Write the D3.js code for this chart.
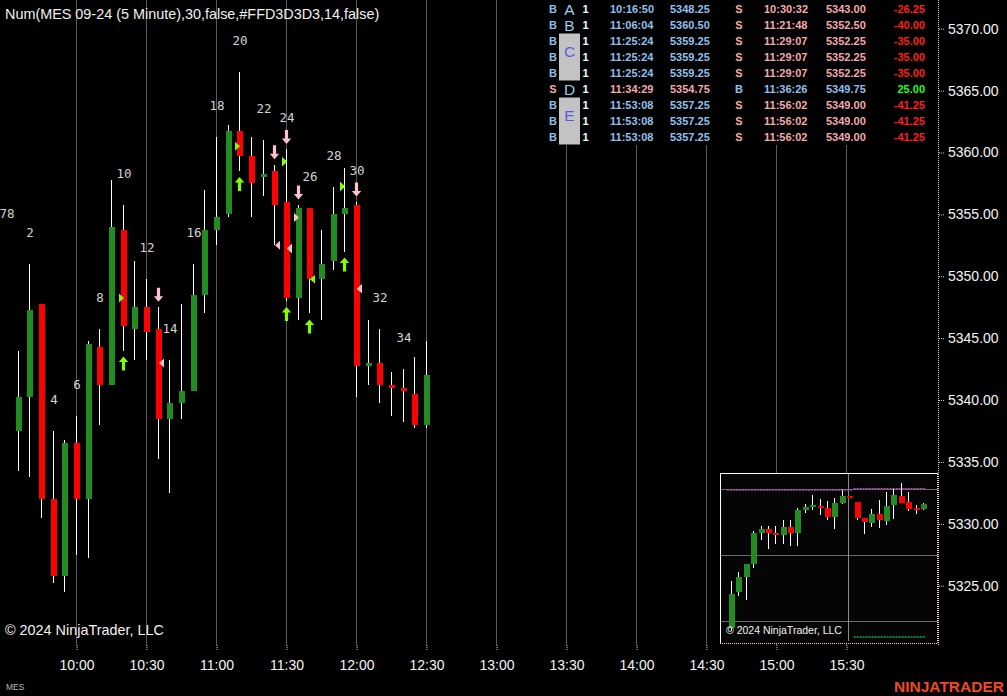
<!DOCTYPE html>
<html>
<head>
<meta charset="utf-8">
<script src="https://cdn.jsdelivr.net/npm/d3@7/dist/d3.min.js"></script>
<style>
  html, body { margin:0; padding:0; background:#000; overflow:hidden; }
  svg { display:block; }
</style>
</head>
<body>
<svg id="chart" width="1007" height="696"></svg>
<script>
// ================= DATA =================
const chartTitle = "Num(MES 09-24 (5 Minute),30,false,#FFD3D3D3,14,false)";
const copyright = "\u00A9 2024 NinjaTrader, LLC";

// 5-minute bars (bar number, close time, OHLC)
const barNumbers = [1,2,3,4,5,6,7,8,9,10,11,12,13,14,15,16,17,18,19,20,21,22,23,24,25,26,27,28,29,30,31,32,33,34,35,36];
const barTimes = ["9:35","9:40","9:45","9:50","9:55","10:00","10:05","10:10","10:15","10:20","10:25","10:30",
  "10:35","10:40","10:45","10:50","10:55","11:00","11:05","11:10","11:15","11:20","11:25","11:30",
  "11:35","11:40","11:45","11:50","11:55","12:00","12:05","12:10","12:15","12:20","12:25","12:30"];
const barOpen  = [5337.5,5340.25,5347.75,5332,5325.75,5336.5,5332,5344.25,5341.25,5353.75,5345.75,5347.5,
  5345.75,5338.5,5339.75,5340.75,5348.5,5353.75,5355,5361.75,5359.75,5358,5358.5,5356,
  5348.25,5355.5,5349.75,5351.25,5355,5355.75,5342.75,5343,5341.25,5341,5340.5,5338];
const barHigh  = [5344,5351,5347.75,5337.5,5336.75,5338.75,5344.75,5345.75,5357.75,5355.75,5351.25,5349.75,
  5347.5,5343.25,5347.75,5351,5357,5361.25,5362.25,5366.5,5361.25,5361,5359,5360.25,
  5355.75,5355.5,5353.75,5357.25,5358.75,5356,5346.5,5345.75,5342.25,5342.5,5343.5,5344.75];
const barLow   = [5334.25,5333.75,5330.5,5325.25,5324.5,5327.5,5327.25,5338,5341.25,5344,5343.25,5343.25,
  5335.25,5332.5,5338.5,5340.75,5347,5352.5,5354.75,5358.5,5354.75,5356.5,5352.5,5348,
  5346.5,5347,5346.5,5350.5,5352,5340.25,5341.25,5339.75,5338.75,5338.25,5337.75,5337.75];
const barClose = [5340.25,5347.25,5332,5325.75,5336.5,5332,5344.5,5341.25,5354,5346,5347.5,5345.5,
  5338.5,5339.75,5340.75,5348.5,5353.75,5354.75,5361.75,5359.75,5357.5,5358.25,5355.75,5348.25,
  5355.5,5349.75,5351,5355,5355.5,5342.75,5343,5341.25,5341,5340.75,5338,5342];

// bar-number labels (every second bar) + last bar of previous session
const labeledBars = [2,4,6,8,10,12,14,16,18,20,22,24,26,28,30,32,34];
const prevBarNumber = 78, prevBarTime = "9:30", prevBarHigh = 5352.5;

// signal arrows
const upArrowBars = [10,20,24,26,29];
const downArrowBars = [13,23,24,25,30];

// trades
const tradeEntrySide  = ["B","B","B","B","B","S","B","B","B"];
const tradeQty        = [1,1,1,1,1,1,1,1,1];
const tradeEntryTime  = ["10:16:50","11:06:04","11:25:24","11:25:24","11:25:24","11:34:29","11:53:08","11:53:08","11:53:08"];
const tradeEntryPrice = [5348.25,5360.50,5359.25,5359.25,5359.25,5354.75,5357.25,5357.25,5357.25];
const tradeExitSide   = ["S","S","S","S","S","B","S","S","S"];
const tradeExitTime   = ["10:30:32","11:21:48","11:29:07","11:29:07","11:29:07","11:36:26","11:56:02","11:56:02","11:56:02"];
const tradeExitPrice  = [5343.00,5352.50,5352.25,5352.25,5352.25,5349.75,5349.00,5349.00,5349.00];
const tradePnl        = [-26.25,-40.00,-35.00,-35.00,-35.00,25.00,-41.25,-41.25,-41.25];
const tradeGroupLabels = ["A","B","C","D","E"];
const tradeGroupRows   = [[0],[1],[2,3,4],[5],[6,7,8]];

// axes
const priceTicks = [5325,5330,5335,5340,5345,5350,5355,5360,5365,5370];
const timeTicks = ["10:00","10:30","11:00","11:30","12:00","12:30","13:00","13:30","14:00","14:30","15:00","15:30"];

// mini chart (inset)
const insetOpen  = [5328,5338.75,5343.5,5347.5,5356.75,5358,5356.75,5356.25,5358.5,5356.75,5363.75,5364.75,5365,5364.25,5361.5,5366,5368,5366.25,5361.25,5359.75,5362.5,5360.5,5365.25,5368,5366.25,5364.25,5364];
const insetHigh  = [5342.25,5345,5347.5,5357.5,5359,5359,5359,5360.75,5360.75,5364.25,5365.5,5368.25,5367,5366.5,5367.5,5370,5368,5366.25,5361.25,5364,5366.75,5369.25,5370.5,5372,5369.25,5365.25,5366];
const insetLow   = [5327,5337.75,5336.5,5346.25,5354.75,5352,5353.5,5353.5,5352.75,5352.75,5362.75,5363.75,5362.25,5360.75,5358,5365.5,5367.5,5360.75,5356.5,5358.5,5358.25,5359.25,5361,5366,5363.5,5362.5,5363.75];
const insetClose = [5338.25,5343.5,5347.5,5356.75,5358,5356.75,5356.25,5358.5,5356.75,5363.75,5364.75,5365.25,5364.25,5361.5,5366,5368,5367.5,5361.25,5360,5362.5,5360.75,5365,5368.25,5366,5364,5364,5365.5];
const insetGridPrices = [5370,5350,5330];
const insetDividerIndex = 15.9;
const insetMagentaLevels = [{from:-0.55,to:16.45,price:5369.75},{from:16.6,to:26.4,price:5370.25}];
const insetGreenLevels = [{from:16.6,to:26.4,price:5325.25}];

// ================= DRAW =================
const W = 1007, H = 696, plotR = 938, plotB = 645;
const FS = '"Liberation Sans", Arial, Helvetica, sans-serif';
const FM = '"DejaVu Sans Mono", "Liberation Mono", monospace';
const T = s => { const p = s.split(':').map(Number); return new Date(2024, 6, 19, p[0], p[1], p[2] || 0); };

const svg = d3.select('#chart');
svg.append('rect').attr('width', W).attr('height', H).attr('fill', '#000');

const x = d3.scaleTime().domain([T("9:27"), T("16:09")]).range([0, plotR]);
const y = d3.scaleLinear().domain([5320.21, 5372.32]).range([plotB, 0]);
const px = v => Math.round(v);

const bars = barNumbers.map((n, i) => ({n, t: T(barTimes[i]), o: barOpen[i], h: barHigh[i], l: barLow[i], c: barClose[i]}));
const barX = b => px(x(b.t));
const barByNum = n => bars.find(b => b.n === n);
const barForTime = s => { const t = T(s); return bars.find(b => b.t >= t); };

// vertical grid
svg.append('g').selectAll('line').data(timeTicks).join('line')
  .attr('x1', d => px(x(T(d))) - 0.5).attr('x2', d => px(x(T(d))) - 0.5)
  .attr('y1', 0).attr('y2', plotB)
  .attr('stroke', '#5a5a5a').attr('stroke-width', 1);

// candles
const cg = svg.append('g').attr('shape-rendering', 'crispEdges');
cg.selectAll('line.wick').data(bars).join('line').attr('class', 'wick')
  .attr('x1', b => barX(b) - 0.5).attr('x2', b => barX(b) - 0.5)
  .attr('y1', b => y(b.h)).attr('y2', b => y(b.l))
  .attr('stroke', '#ffffff').attr('stroke-width', 1);
cg.selectAll('rect.body').data(bars).join('rect').attr('class', 'body')
  .attr('x', b => barX(b) - 3).attr('width', 6)
  .attr('y', b => y(Math.max(b.o, b.c)))
  .attr('height', b => Math.max(1.5, Math.abs(y(b.o) - y(b.c))))
  .attr('fill', b => b.c >= b.o ? '#228b22' : '#ff0000');

// bar number labels
const lab = labeledBars.map(n => { const b = barByNum(n); return {txt: String(n), x: barX(b), h: b.h}; });
lab.unshift({txt: String(prevBarNumber), x: px(x(T(prevBarTime))), h: prevBarHigh});
svg.append('g').selectAll('text').data(lab).join('text')
  .attr('x', d => d.x).attr('y', d => y(d.h) - 31.5)
  .attr('text-anchor', 'middle').attr('dominant-baseline', 'central')
  .attr('font-family', FM).attr('font-size', 12.5).attr('fill', '#d3d3d3')
  .text(d => d.txt);

// signal arrows
const upPath = 'M0,0 L4.7,5.5 L1.6,5.5 L1.6,14 L-1.6,14 L-1.6,5.5 L-4.7,5.5 Z';
const downPath = 'M0,0 L4.7,-5.5 L1.6,-5.5 L1.6,-14 L-1.6,-14 L-1.6,-5.5 L-4.7,-5.5 Z';
svg.append('g').selectAll('path').data(upArrowBars.map(barByNum)).join('path')
  .attr('d', upPath).attr('transform', b => `translate(${barX(b) - 0.5},${y(b.l) + 6})`)
  .attr('fill', '#7fff00');
svg.append('g').selectAll('path').data(downArrowBars.map(barByNum)).join('path')
  .attr('d', downPath).attr('transform', b => `translate(${barX(b) - 0.5},${y(b.h) - 5.5})`)
  .attr('fill', '#ffc0cb');

// trade markers
const trades = tradeEntrySide.map((s, i) => ({
  es: s, et: tradeEntryTime[i], ep: tradeEntryPrice[i],
  xs: tradeExitSide[i], xt: tradeExitTime[i], xp: tradeExitPrice[i],
  q: tradeQty[i], pnl: tradePnl[i]
}));
const sideCol = s => s === 'B' ? '#7fff00' : '#ffc0cb';
const mk = svg.append('g');
trades.forEach(t => {
  const eb = barForTime(t.et), xb = barForTime(t.xt);
  mk.append('path').attr('d', 'M0,0 L-5,-4.5 L-5,4.5 Z')
    .attr('transform', `translate(${barX(eb)},${y(t.ep)})`).attr('fill', sideCol(t.es));
  mk.append('path').attr('d', 'M0,0 L5,-4.5 L5,4.5 Z')
    .attr('transform', `translate(${barX(xb)},${y(t.xp)})`).attr('fill', sideCol(t.xs));
});

// ---------- trades table ----------
const tbl = svg.append('g');
tbl.append('rect').attr('x', 545).attr('y', 0).attr('width', 392).attr('height', 145).attr('fill', '#000');
const rowY = i => 9 + 16 * i;
const txtCol = s => s === 'B' ? '#8fc0ee' : '#f4a9ad';
tradeGroupRows.forEach((rows, gi) => {
  const first = rows[0], last = rows[rows.length - 1];
  let cy = rowY(first);
  let letterCol = '#9ccdf2';
  if (rows.length > 1) {
    const top = rowY(first) - 7.5;
    tbl.append('rect').attr('x', 559).attr('y', top).attr('width', 21)
      .attr('height', rowY(last) - rowY(first) + 15).attr('fill', '#c3c3c3');
    cy = top + 18;
    letterCol = '#5a5ae0';
  }
  tbl.append('text').attr('x', 569.5).attr('y', cy).attr('text-anchor', 'middle')
    .attr('dominant-baseline', 'central').attr('font-family', FS).attr('font-size', 15.5)
    .attr('fill', letterCol).text(tradeGroupLabels[gi]);
});
const tcell = (xx, yy, txt, col, anchor) => tbl.append('text').attr('x', xx).attr('y', yy)
  .attr('text-anchor', anchor).attr('dominant-baseline', 'central')
  .attr('font-family', FS).attr('font-size', 11).attr('font-weight', 'bold')
  .attr('fill', col).text(txt);
trades.forEach((t, i) => {
  const yy = rowY(i);
  tcell(553, yy, t.es, txtCol(t.es), 'middle');
  tcell(585.5, yy, String(t.q), '#ffffff', 'middle');
  tcell(610, yy, t.et, txtCol(t.es), 'start');
  tcell(670, yy, t.ep.toFixed(2), txtCol(t.es), 'start');
  tcell(739, yy, t.xs, txtCol(t.xs), 'middle');
  tcell(764, yy, t.xt, txtCol(t.xs), 'start');
  tcell(826, yy, t.xp.toFixed(2), txtCol(t.xs), 'start');
  tcell(925, yy, t.pnl.toFixed(2), t.pnl < 0 ? '#ff1e1e' : '#1eff1e', 'end');
});

// ---------- inset mini chart ----------
const ig = svg.append('g');
const ix = d3.scaleLinear().domain([0, 26]).range([731, 923]);
const iy = d3.scaleLinear().domain([5370, 5330]).range([489.3, 621.3]);
ig.append('rect').attr('x', 720).attr('y', 473).attr('width', 218).attr('height', 171).attr('fill', '#050505');
ig.selectAll('line.ig').data(insetGridPrices).join('line').attr('class', 'ig')
  .attr('x1', 720).attr('x2', 938).attr('y1', d => Math.round(iy(d)) + 0.5).attr('y2', d => Math.round(iy(d)) + 0.5)
  .attr('stroke', '#6a6a6a');
ig.append('line').attr('x1', Math.round(ix(insetDividerIndex)) + 0.5).attr('x2', Math.round(ix(insetDividerIndex)) + 0.5)
  .attr('y1', 474).attr('y2', 641).attr('stroke', '#8a8a8a');
const ibars = insetOpen.map((o, i) => ({i, o, h: insetHigh[i], l: insetLow[i], c: insetClose[i]}));
const icg = ig.append('g').attr('shape-rendering', 'crispEdges');
icg.selectAll('line').data(ibars).join('line')
  .attr('x1', d => Math.round(ix(d.i)) + 0.5).attr('x2', d => Math.round(ix(d.i)) + 0.5)
  .attr('y1', d => iy(d.h)).attr('y2', d => iy(d.l)).attr('stroke', '#ffffff');
icg.selectAll('rect').data(ibars).join('rect')
  .attr('x', d => Math.round(ix(d.i)) - 2.5).attr('width', 6)
  .attr('y', d => iy(Math.max(d.o, d.c)))
  .attr('height', d => Math.max(1.5, Math.abs(iy(d.o) - iy(d.c))))
  .attr('fill', d => d.c >= d.o ? '#228b22' : '#ff0000');
ig.selectAll('line.mg').data(insetMagentaLevels).join('line').attr('class', 'mg')
  .attr('x1', d => ix(d.from)).attr('x2', d => ix(d.to))
  .attr('y1', d => iy(d.price)).attr('y2', d => iy(d.price))
  .attr('stroke', '#e040e0').attr('stroke-width', 1).attr('stroke-dasharray', '2,1');
ig.selectAll('line.gr').data(insetGreenLevels).join('line').attr('class', 'gr')
  .attr('x1', d => ix(d.from)).attr('x2', d => ix(d.to))
  .attr('y1', d => iy(d.price)).attr('y2', d => iy(d.price))
  .attr('stroke', '#22ff88').attr('stroke-width', 1).attr('stroke-dasharray', '2,1');
ig.append('text').attr('x', 726).attr('y', 633.5).attr('font-family', FS).attr('font-size', 10.5)
  .attr('fill', '#f2f2f2').text(copyright);

// ---------- axes ----------
// price axis
svg.append('line').attr('x1', 938.5).attr('x2', 938.5).attr('y1', 0).attr('y2', plotB)
  .attr('stroke', '#d0d0d0').attr('stroke-dasharray', '1,1');
const yAxis = d3.axisRight(y).tickValues(priceTicks).tickFormat(d3.format('.2f')).tickSize(5).tickPadding(4);
const yg = svg.append('g').attr('transform', 'translate(939,0)').call(yAxis);
yg.select('.domain').remove();
yg.selectAll('.tick line').attr('stroke', '#d0d0d0').attr('stroke-dasharray', '1,1');
yg.selectAll('.tick text').attr('font-family', FS).attr('font-size', 14).attr('fill', '#f4f4f4');

// inset border (drawn over axis line)
ig.raise();
svg.append('line').attr('x1', 720).attr('x2', 938).attr('y1', 473.5).attr('y2', 473.5).attr('stroke', '#ffffff');
svg.append('line').attr('x1', 720.5).attr('x2', 720.5).attr('y1', 473).attr('y2', 643).attr('stroke', '#ffffff');
svg.append('line').attr('x1', 937.5).attr('x2', 937.5).attr('y1', 474).attr('y2', 644).attr('stroke', '#ffc0cb').attr('stroke-dasharray', '1,1');
svg.append('line').attr('x1', 720).attr('x2', 938).attr('y1', 643.5).attr('y2', 643.5).attr('stroke', '#ffc0cb').attr('stroke-dasharray', '1,1');

// time axis
const xAxis = d3.axisBottom(x).tickValues(timeTicks.map(T)).tickFormat(d3.timeFormat('%H:%M')).tickSize(6).tickPadding(9);
const xg = svg.append('g').attr('transform', `translate(-0.5,${plotB})`).call(xAxis);
xg.select('.domain').remove();
xg.selectAll('.tick line').attr('stroke', '#d0d0d0').attr('stroke-dasharray', '1,1');
xg.selectAll('.tick text').attr('font-family', FS).attr('font-size', 14).attr('fill', '#f4f4f4');

// ---------- texts ----------
svg.append('text').attr('x', 5).attr('y', 18.5).attr('font-family', FS).attr('font-size', 14.4)
  .attr('fill', '#f0f0f0').text(chartTitle);
svg.append('text').attr('x', 5).attr('y', 635).attr('font-family', FS).attr('font-size', 14.4)
  .attr('fill', '#f2f2f2').text(copyright);
svg.append('text').attr('x', 6).attr('y', 690).attr('font-family', FS).attr('font-size', 8.5)
  .attr('fill', '#b8b8b8').text('MES');
svg.append('text').attr('x', 1004).attr('y', 692).attr('text-anchor', 'end').attr('font-family', FS)
  .attr('font-size', 15.5).attr('font-weight', 'bold').attr('fill', '#f04a24').text('NINJATRADER');
</script>
</body>
</html>
